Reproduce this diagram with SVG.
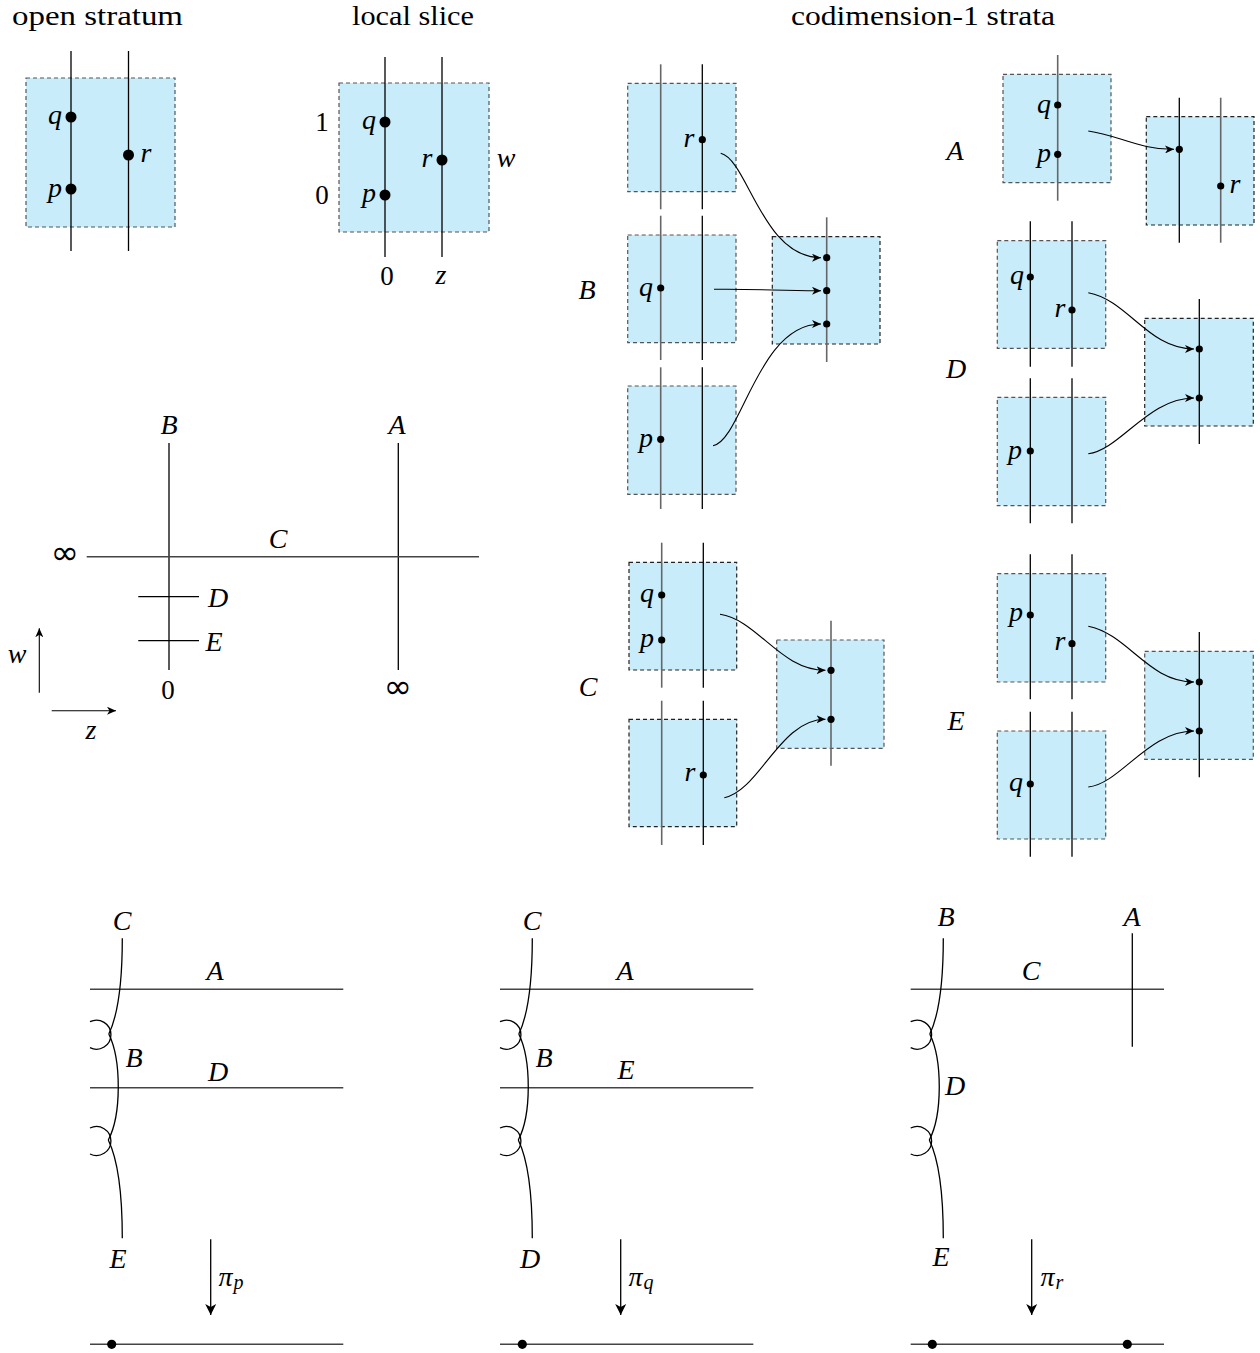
<svg xmlns="http://www.w3.org/2000/svg" width="1260" height="1353" viewBox="0 0 1260 1353">
<defs>
<style>
.t{font-family:"Liberation Serif","DejaVu Serif",serif;font-size:27px;fill:#000}
.m{font-family:"Liberation Serif","DejaVu Serif",serif;font-size:28px;font-style:italic;fill:#000;text-anchor:middle;dominant-baseline:central}
.n{font-family:"Liberation Serif","DejaVu Serif",serif;font-size:27px;fill:#000;text-anchor:middle;dominant-baseline:central}
.inf{font-family:"DejaVu Sans","DejaVu Serif",sans-serif;font-size:34px;fill:#000;text-anchor:middle;dominant-baseline:central}
.box{fill:#c8ecf9;stroke:#555;stroke-width:1.2;stroke-dasharray:4 3}
.bk{stroke:#000;stroke-width:1.3;fill:none}
.gr{stroke:#666;stroke-width:1.6;fill:none}
.hl{stroke:#444;stroke-width:1.4;fill:none}
.cv{stroke:#000;stroke-width:1.3;fill:none}
.ar{stroke:#000;stroke-width:1.1;fill:none;marker-end:url(#ah)}
.dot{fill:#000}
</style>
<marker id="ah" markerUnits="userSpaceOnUse" markerWidth="10" markerHeight="8" refX="9" refY="4" orient="auto">
<path d="M0,0 L9,4 L0,8 L2.5,4 Z" fill="#000"/>
</marker>
<marker id="big" markerUnits="userSpaceOnUse" markerWidth="12" markerHeight="12" refX="11" refY="6" orient="auto">
<path d="M0,0.5 L11,6 L0,11.5 L3,6 Z" fill="#000"/>
</marker>
</defs>
<rect width="1260" height="1353" fill="#fff"/>

<!-- titles -->
<text class="t" x="12" y="25" textLength="171" lengthAdjust="spacingAndGlyphs">open stratum</text>
<text class="t" x="352" y="25" textLength="122" lengthAdjust="spacingAndGlyphs">local slice</text>
<text class="t" x="791" y="25" textLength="264" lengthAdjust="spacingAndGlyphs">codimension-1 strata</text>

<!-- open stratum -->
<g id="open-stratum">
<rect class="box" x="26" y="78" width="149" height="149"/>
<line class="bk" x1="71" y1="51" x2="71" y2="251"/>
<line class="bk" x1="128.5" y1="51" x2="128.5" y2="251"/>
<circle class="dot" cx="71" cy="117" r="5.5"/>
<circle class="dot" cx="71" cy="189" r="5.5"/>
<circle class="dot" cx="128.5" cy="155" r="5.5"/>
<text class="m" x="55" y="114">q</text>
<text class="m" x="55" y="187">p</text>
<text class="m" x="146" y="152">r</text>
</g>

<!-- local slice -->
<g id="local-slice">
<rect class="box" x="339" y="83" width="150" height="149"/>
<line class="bk" x1="385" y1="57" x2="385" y2="257"/>
<line class="bk" x1="442" y1="57" x2="442" y2="257"/>
<circle class="dot" cx="385" cy="122" r="5.5"/>
<circle class="dot" cx="385" cy="195" r="5.5"/>
<circle class="dot" cx="442" cy="160" r="5.5"/>
<text class="m" x="369" y="119">q</text>
<text class="m" x="369" y="192">p</text>
<text class="m" x="427" y="157">r</text>
<text class="n" x="322" y="122">1</text>
<text class="n" x="322" y="195">0</text>
<text class="m" x="506" y="157">w</text>
<text class="n" x="387" y="276">0</text>
<text class="m" x="441" y="274">z</text>
</g>

<!-- stratum diagram -->
<g id="stratum-plane">
<line class="bk" x1="169" y1="443" x2="169" y2="670"/>
<line class="bk" x1="398.3" y1="443" x2="398.3" y2="670"/>
<line class="hl" x1="86.7" y1="556.7" x2="479" y2="556.7"/>
<line class="bk" x1="138.3" y1="596.7" x2="199" y2="596.7"/>
<line class="bk" x1="138.3" y1="640.7" x2="199" y2="640.7"/>
<text class="m" x="169" y="424">B</text>
<text class="m" x="397" y="424">A</text>
<text class="m" x="278" y="538">C</text>
<text class="m" x="218" y="597">D</text>
<text class="m" x="214" y="641">E</text>
<text class="inf" x="65" y="552">∞</text>
<text class="n" x="168" y="690">0</text>
<text class="inf" x="398" y="686">∞</text>
<line class="ar" x1="39.3" y1="692.7" x2="39.3" y2="628.3"/>
<line class="ar" x1="51.7" y1="710.7" x2="116" y2="710.7"/>
<text class="m" x="17" y="653">w</text>
<text class="m" x="91" y="729">z</text>
</g>

<!-- B panel -->
<g id="panel-B">
<text class="m" x="587" y="289">B</text>
<rect class="box" x="627.7" y="83.3" width="108.3" height="108.4"/>
<line class="gr" x1="660.7" y1="64.3" x2="660.7" y2="209.3"/>
<line class="bk" x1="702.3" y1="64.3" x2="702.3" y2="209.3"/>
<circle class="dot" cx="702.3" cy="139.7" r="3.6"/>
<text class="m" x="689" y="137">r</text>
<rect class="box" x="627.7" y="235" width="108.3" height="107.7"/>
<line class="gr" x1="660.7" y1="215.7" x2="660.7" y2="360"/>
<line class="bk" x1="702.3" y1="215.7" x2="702.3" y2="360"/>
<circle class="dot" cx="660.7" cy="288" r="3.6"/>
<text class="m" x="646" y="286">q</text>
<rect class="box" x="627.7" y="386" width="108.3" height="108.3"/>
<line class="gr" x1="660.7" y1="367.3" x2="660.7" y2="509"/>
<line class="bk" x1="702.3" y1="367.3" x2="702.3" y2="509"/>
<circle class="dot" cx="660.7" cy="439.3" r="3.6"/>
<text class="m" x="646" y="437">p</text>
<rect class="box" x="772.3" y="236.7" width="107.7" height="107.3" style="stroke:#222"/>
<line class="gr" x1="826.7" y1="217.3" x2="826.7" y2="362"/>
<circle class="dot" cx="826.7" cy="257.7" r="3.6"/>
<circle class="dot" cx="826.7" cy="290.7" r="3.6"/>
<circle class="dot" cx="826.7" cy="324" r="3.6"/>
</g>

<!-- A panel -->
<g id="panel-A">
<text class="m" x="955" y="150">A</text>
<rect class="box" x="1003" y="74.3" width="108" height="108.4"/>
<line class="gr" x1="1057.7" y1="55" x2="1057.7" y2="200.7"/>
<circle class="dot" cx="1057.7" cy="105" r="3.6"/>
<circle class="dot" cx="1057.7" cy="154.3" r="3.6"/>
<text class="m" x="1044" y="103">q</text>
<text class="m" x="1044" y="152">p</text>
<rect class="box" x="1146.3" y="116.7" width="107.7" height="108.3" style="stroke:#222"/>
<line class="bk" x1="1179.3" y1="97.7" x2="1179.3" y2="242.7"/>
<line class="gr" x1="1220.7" y1="97.7" x2="1220.7" y2="242.7"/>
<circle class="dot" cx="1179.3" cy="149.3" r="3.6"/>
<circle class="dot" cx="1220.7" cy="186" r="3.6"/>
<text class="m" x="1235" y="183">r</text>
</g>

<!-- D panel -->
<g id="panel-D">
<text class="m" x="956" y="368">D</text>
<rect class="box" x="997.3" y="240.7" width="108.4" height="107.6"/>
<line class="bk" x1="1030.3" y1="221.3" x2="1030.3" y2="366.7"/>
<line class="bk" x1="1072" y1="221.3" x2="1072" y2="366.7"/>
<circle class="dot" cx="1030.3" cy="277" r="3.6"/>
<circle class="dot" cx="1072" cy="310" r="3.6"/>
<text class="m" x="1017" y="274">q</text>
<text class="m" x="1060" y="307">r</text>
<rect class="box" x="997.3" y="397.3" width="108.4" height="108.4"/>
<line class="bk" x1="1030.3" y1="378.3" x2="1030.3" y2="523.3"/>
<line class="bk" x1="1072" y1="378.3" x2="1072" y2="523.3"/>
<circle class="dot" cx="1030.3" cy="451" r="3.6"/>
<text class="m" x="1015" y="449">p</text>
<rect class="box" x="1144.7" y="318.3" width="108.6" height="107.7" style="stroke:#222"/>
<line class="bk" x1="1199.3" y1="299" x2="1199.3" y2="444"/>
<circle class="dot" cx="1199.3" cy="349" r="3.6"/>
<circle class="dot" cx="1199.3" cy="398" r="3.6"/>
</g>

<!-- C panel -->
<g id="panel-C">
<text class="m" x="588" y="686">C</text>
<rect class="box" x="629" y="562.3" width="107.7" height="107.7" style="stroke:#222"/>
<line class="gr" x1="661.7" y1="542.7" x2="661.7" y2="687.7"/>
<line class="bk" x1="703.3" y1="542.7" x2="703.3" y2="687.7"/>
<circle class="dot" cx="661.7" cy="595" r="3.6"/>
<circle class="dot" cx="661.7" cy="640" r="3.6"/>
<text class="m" x="647" y="592">q</text>
<text class="m" x="647" y="637">p</text>
<rect class="box" x="629" y="719.3" width="107.7" height="107.4" style="stroke:#222"/>
<line class="gr" x1="661.7" y1="700.7" x2="661.7" y2="845"/>
<line class="bk" x1="703.3" y1="700.7" x2="703.3" y2="845"/>
<circle class="dot" cx="703.3" cy="775" r="3.6"/>
<text class="m" x="690" y="771">r</text>
<rect class="box" x="776.7" y="640" width="107.3" height="108.3"/>
<line class="gr" x1="831" y1="620.7" x2="831" y2="765.7"/>
<circle class="dot" cx="831" cy="670.3" r="3.6"/>
<circle class="dot" cx="831" cy="719.3" r="3.6"/>
</g>

<!-- E panel -->
<g id="panel-E">
<text class="m" x="956" y="720">E</text>
<rect class="box" x="997.3" y="573.7" width="108.4" height="108.3"/>
<line class="bk" x1="1030.3" y1="554.3" x2="1030.3" y2="699.3"/>
<line class="bk" x1="1072" y1="554.3" x2="1072" y2="699.3"/>
<circle class="dot" cx="1030.3" cy="615" r="3.6"/>
<circle class="dot" cx="1072" cy="643.7" r="3.6"/>
<text class="m" x="1016" y="611">p</text>
<text class="m" x="1060" y="640">r</text>
<rect class="box" x="997.3" y="731" width="108.4" height="108"/>
<line class="bk" x1="1030.3" y1="711.7" x2="1030.3" y2="856.7"/>
<line class="bk" x1="1072" y1="711.7" x2="1072" y2="856.7"/>
<circle class="dot" cx="1030.3" cy="784" r="3.6"/>
<text class="m" x="1016" y="781">q</text>
<rect class="box" x="1144.7" y="651.3" width="108.6" height="108"/>
<line class="bk" x1="1199.3" y1="632" x2="1199.3" y2="777.3"/>
<circle class="dot" cx="1199.3" cy="682" r="3.6"/>
<circle class="dot" cx="1199.3" cy="731" r="3.6"/>
</g>

<!-- connectors -->
<g id="connectors">
<path class="ar" d="M720.7,153.3 C748,160 762,257.7 821,257.7"/>
<path class="ar" d="M714,289.3 C750,288.5 785,291 821,290.7"/>
<path class="ar" d="M713,445.7 C742,440 758,324 821,324"/>
<path class="ar" d="M1088.3,131 C1118,135 1140,150 1174,149.3"/>
<path class="ar" d="M1088.3,292.7 C1128,300 1148,349 1194,349"/>
<path class="ar" d="M1088.3,453.7 C1120,450 1148,398 1194,398"/>
<path class="ar" d="M720,614.3 C758,620 780,670.3 825.5,670.3"/>
<path class="ar" d="M724.3,797.7 C760,790 780,719.3 825.5,719.3"/>
<path class="ar" d="M1088.3,626.3 C1128,634 1148,682 1194,682"/>
<path class="ar" d="M1088.3,787 C1120,784 1148,731 1194,731"/>
</g>

<!-- bottom left: pi_p -->
<g id="fiber-p">
<line class="hl" x1="90" y1="989.3" x2="343.3" y2="989.3"/>
<line class="hl" x1="90" y1="1087.7" x2="343.3" y2="1087.7"/>
<path class="cv" d="M122.3,938.3 C122.3,985 118,1015 108.8,1034"/>
<path class="cv" d="M108.8,1034 C121.5,1060 121.5,1115 108.3,1140"/>
<path class="cv" d="M108.3,1140 C118,1160 122.3,1190 122.3,1238.3"/>
<path class="cv" d="M90,1021.7 A14.5,14.5 0 1 1 90,1047.7"/>
<path class="cv" d="M90,1128 A14.5,14.5 0 1 1 90,1154"/>
<text class="m" x="122" y="920">C</text>
<text class="m" x="215" y="970">A</text>
<text class="m" x="134" y="1057">B</text>
<text class="m" x="218" y="1071">D</text>
<text class="m" x="118" y="1258">E</text>
<line x1="210.7" y1="1239.3" x2="210.7" y2="1315" stroke="#000" stroke-width="1.3" marker-end="url(#big)"/>
<text class="m" x="231" y="1276">π<tspan font-size="20" dx="1" dy="6">p</tspan></text>
<line class="hl" x1="90" y1="1344.3" x2="343.3" y2="1344.3"/>
<circle class="dot" cx="111.7" cy="1344.3" r="4.6"/>
</g>

<!-- bottom middle: pi_q -->
<g id="fiber-q">
<line class="hl" x1="500" y1="989.3" x2="753.3" y2="989.3"/>
<line class="hl" x1="500" y1="1087.7" x2="753.3" y2="1087.7"/>
<path class="cv" d="M532.3,938.3 C532.3,985 528,1015 518.8,1034"/>
<path class="cv" d="M518.8,1034 C531.5,1060 531.5,1115 518.3,1140"/>
<path class="cv" d="M518.3,1140 C528,1160 532.3,1190 532.3,1238.3"/>
<path class="cv" d="M500,1021.7 A14.5,14.5 0 1 1 500,1047.7"/>
<path class="cv" d="M500,1128 A14.5,14.5 0 1 1 500,1154"/>
<text class="m" x="532" y="920">C</text>
<text class="m" x="625" y="970">A</text>
<text class="m" x="544" y="1057">B</text>
<text class="m" x="626" y="1069">E</text>
<text class="m" x="530" y="1258">D</text>
<line x1="620.7" y1="1239.3" x2="620.7" y2="1315" stroke="#000" stroke-width="1.3" marker-end="url(#big)"/>
<text class="m" x="641" y="1276">π<tspan font-size="20" dx="1" dy="6">q</tspan></text>
<line class="hl" x1="500" y1="1344.3" x2="753.3" y2="1344.3"/>
<circle class="dot" cx="522.3" cy="1344.3" r="4.6"/>
</g>

<!-- bottom right: pi_r -->
<g id="fiber-r">
<line class="hl" x1="910.7" y1="989.3" x2="1164" y2="989.3"/>
<line class="bk" x1="1132.3" y1="933.3" x2="1132.3" y2="1046.7"/>
<path class="cv" d="M943.3,938.3 C943.3,985 939,1015 929.8,1034"/>
<path class="cv" d="M929.8,1034 C942.5,1060 942.5,1115 929.3,1140"/>
<path class="cv" d="M929.3,1140 C939,1160 943.3,1190 943.3,1238.3"/>
<path class="cv" d="M910.7,1021.7 A14.5,14.5 0 1 1 910.7,1047.7"/>
<path class="cv" d="M910.7,1128 A14.5,14.5 0 1 1 910.7,1154"/>
<text class="m" x="946" y="916">B</text>
<text class="m" x="1132" y="916">A</text>
<text class="m" x="1031" y="970">C</text>
<text class="m" x="955" y="1085">D</text>
<text class="m" x="941" y="1256">E</text>
<line x1="1031.7" y1="1239.3" x2="1031.7" y2="1315" stroke="#000" stroke-width="1.3" marker-end="url(#big)"/>
<text class="m" x="1052" y="1276">π<tspan font-size="20" dx="1" dy="6">r</tspan></text>
<line class="hl" x1="910.7" y1="1344.3" x2="1164" y2="1344.3"/>
<circle class="dot" cx="932.3" cy="1344.3" r="4.6"/>
<circle class="dot" cx="1127.3" cy="1344.3" r="4.6"/>
</g>
</svg>
